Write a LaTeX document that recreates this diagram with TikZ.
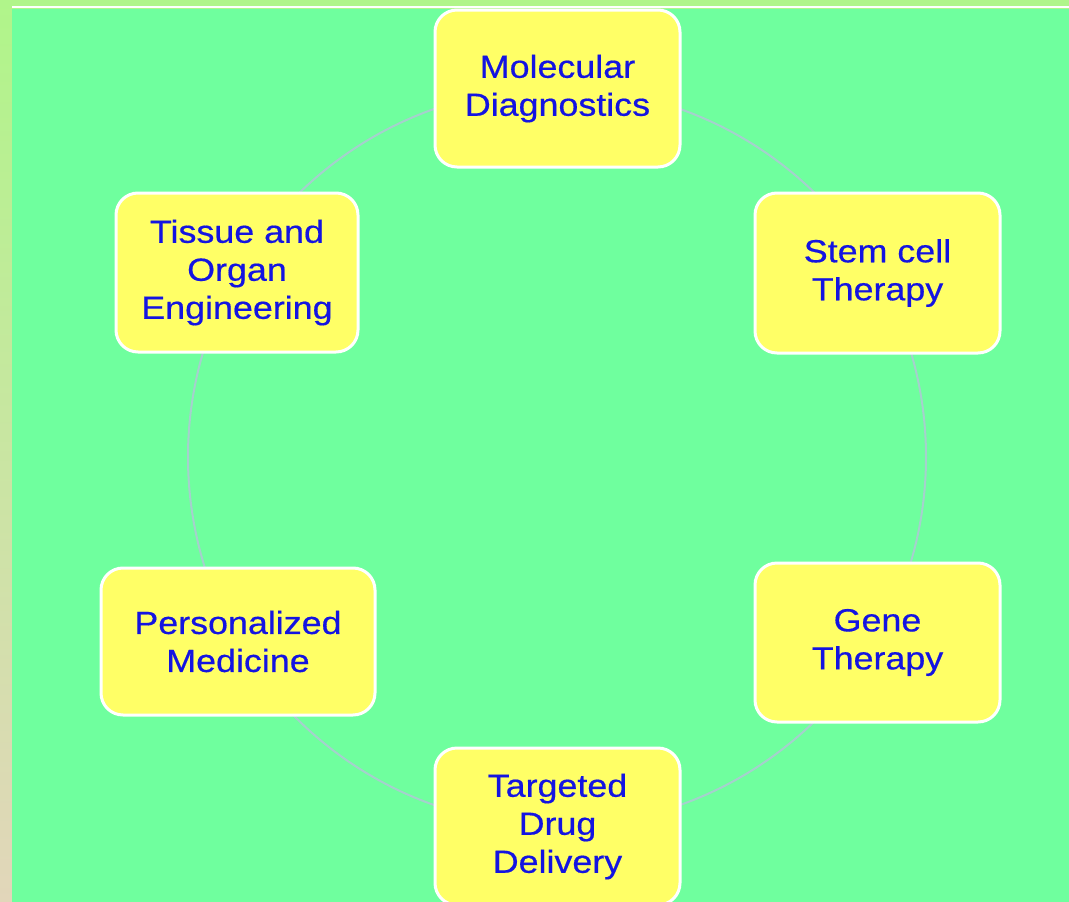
\documentclass[tikz,border=0pt]{standalone}
\usepackage{fontspec}
\setmainfont{Liberation Sans}[FakeStretch=1.12,FakeBold=0.5]
\definecolor{bggreen}{RGB}{111,255,158}
\definecolor{striptop}{RGB}{176,245,138}
\definecolor{stripbot}{RGB}{226,214,186}
\definecolor{boxyellow}{RGB}{255,255,102}
\definecolor{textblue}{RGB}{20,20,225}
\definecolor{ringcol}{RGB}{165,208,205}
\tikzset{
  topic/.style={rectangle, rounded corners=22pt, draw=white, line width=3pt,
    fill=boxyellow, text=textblue, align=center, inner sep=0pt,
    font=\fontsize{32}{38}\selectfont},
  ring/.style={draw=ringcol, line width=2pt}
}
\begin{document}
\begin{tikzpicture}[x=1pt,y=-1pt]
\useasboundingbox (0,0) rectangle (1069,902);
\clip (0,0) rectangle (1069,902);
% background
\fill[striptop] (0,0) rectangle (1069,902);
\shade[top color=striptop, bottom color=stripbot] (0,0) rectangle (12,902);
\fill[white] (12,6) rectangle (1069,7.8);
\fill[bggreen] (12,9) rectangle (1069,902);
% ring
\coordinate (c) at (557,457);
\draw[ring] (c) circle (369);
% topics
\node[topic, minimum width=245pt, minimum height=157pt] (mol) at (557.5,88.5) {Molecular\\Diagnostics};
\node[topic, minimum width=245pt, minimum height=160pt] (stem) at (877.5,273) {Stem cell\\Therapy};
\node[topic, minimum width=245pt, minimum height=159pt] (gene) at (877.5,642.5) {Gene\\Therapy};
\node[topic, minimum width=245pt, minimum height=157pt] (drug) at (557.5,826.5) {Targeted\\Drug\\Delivery};
\node[topic, minimum width=274pt, minimum height=147pt] (pers) at (238,641.5) {Personalized\\Medicine};
\node[topic, minimum width=242pt, minimum height=159pt] (tiss) at (237,272.5) {Tissue and\\Organ\\Engineering};
\end{tikzpicture}
\end{document}
